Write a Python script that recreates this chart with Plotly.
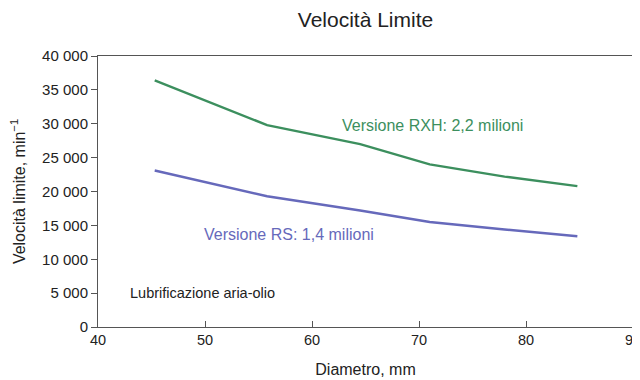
import plotly.graph_objects as go

diam_rxh = [45.3, 52.0, 55.8, 64.5, 71.0, 78.0, 84.8]
speed_rxh = [36400, 32200, 29800, 27000, 24000, 22200, 20800]
diam_rs = [45.3, 55.8, 64.5, 71.0, 78.0, 84.8]
speed_rs = [23100, 19300, 17200, 15500, 14400, 13400]

green = "#3c8f5e"
blue = "#6669bb"

fig = go.Figure()
fig.add_trace(go.Scatter(x=diam_rxh, y=speed_rxh, mode="lines",
                         line=dict(color=green, width=2.4), showlegend=False))
fig.add_trace(go.Scatter(x=diam_rs, y=speed_rs, mode="lines",
                         line=dict(color=blue, width=2.4), showlegend=False))

fig.add_annotation(x=71.3, y=29800, text="Versione RXH: 2,2 milioni", showarrow=False,
                   font=dict(color=green, size=16))
fig.add_annotation(x=49.7, y=13600, text="Versione RS: 1,4 milioni", showarrow=False,
                   xanchor="left", font=dict(color=blue, size=16))
fig.add_annotation(x=42.8, y=5000, text="Lubrificazione aria-olio", showarrow=False,
                   xanchor="left", font=dict(color="#222", size=14.5))

# page body has an 8px margin, so the figure is offset to compensate
fig.update_layout(
    width=640, height=380,
    margin=dict(l=90, r=15, t=48, b=61),
    paper_bgcolor="white", plot_bgcolor="white",
    font=dict(family="Liberation Sans, Arial, sans-serif", size=14.5, color="#222"),
    separators=", ",
    title=dict(text="Velocità Limite", x=0.5, xanchor="center", xref="paper",
               y=1 - 12 / 380, yanchor="middle",
               font=dict(size=21, color="#222")),
    xaxis=dict(range=[40, 90], dtick=10, showgrid=False, zeroline=False, automargin=False,
               showline=True, linecolor="#555", linewidth=1, mirror=True,
               ticks="inside", ticklen=6, tickcolor="#555", tickfont=dict(size=14.5),
               title=dict(text="Diametro, mm", standoff=16, font=dict(size=16))),
    yaxis=dict(range=[0, 40000], dtick=5000, tickformat=",d", showgrid=False, zeroline=False,
               automargin=False,
               showline=True, linecolor="#555", linewidth=1, mirror=True,
               ticks="outside", ticklen=6, tickcolor="#555", tickfont=dict(size=15),
               title=dict(text="Velocità limite, min<sup>−1</sup>", standoff=14, font=dict(size=16))),
)

fig.write_html("out.html")
